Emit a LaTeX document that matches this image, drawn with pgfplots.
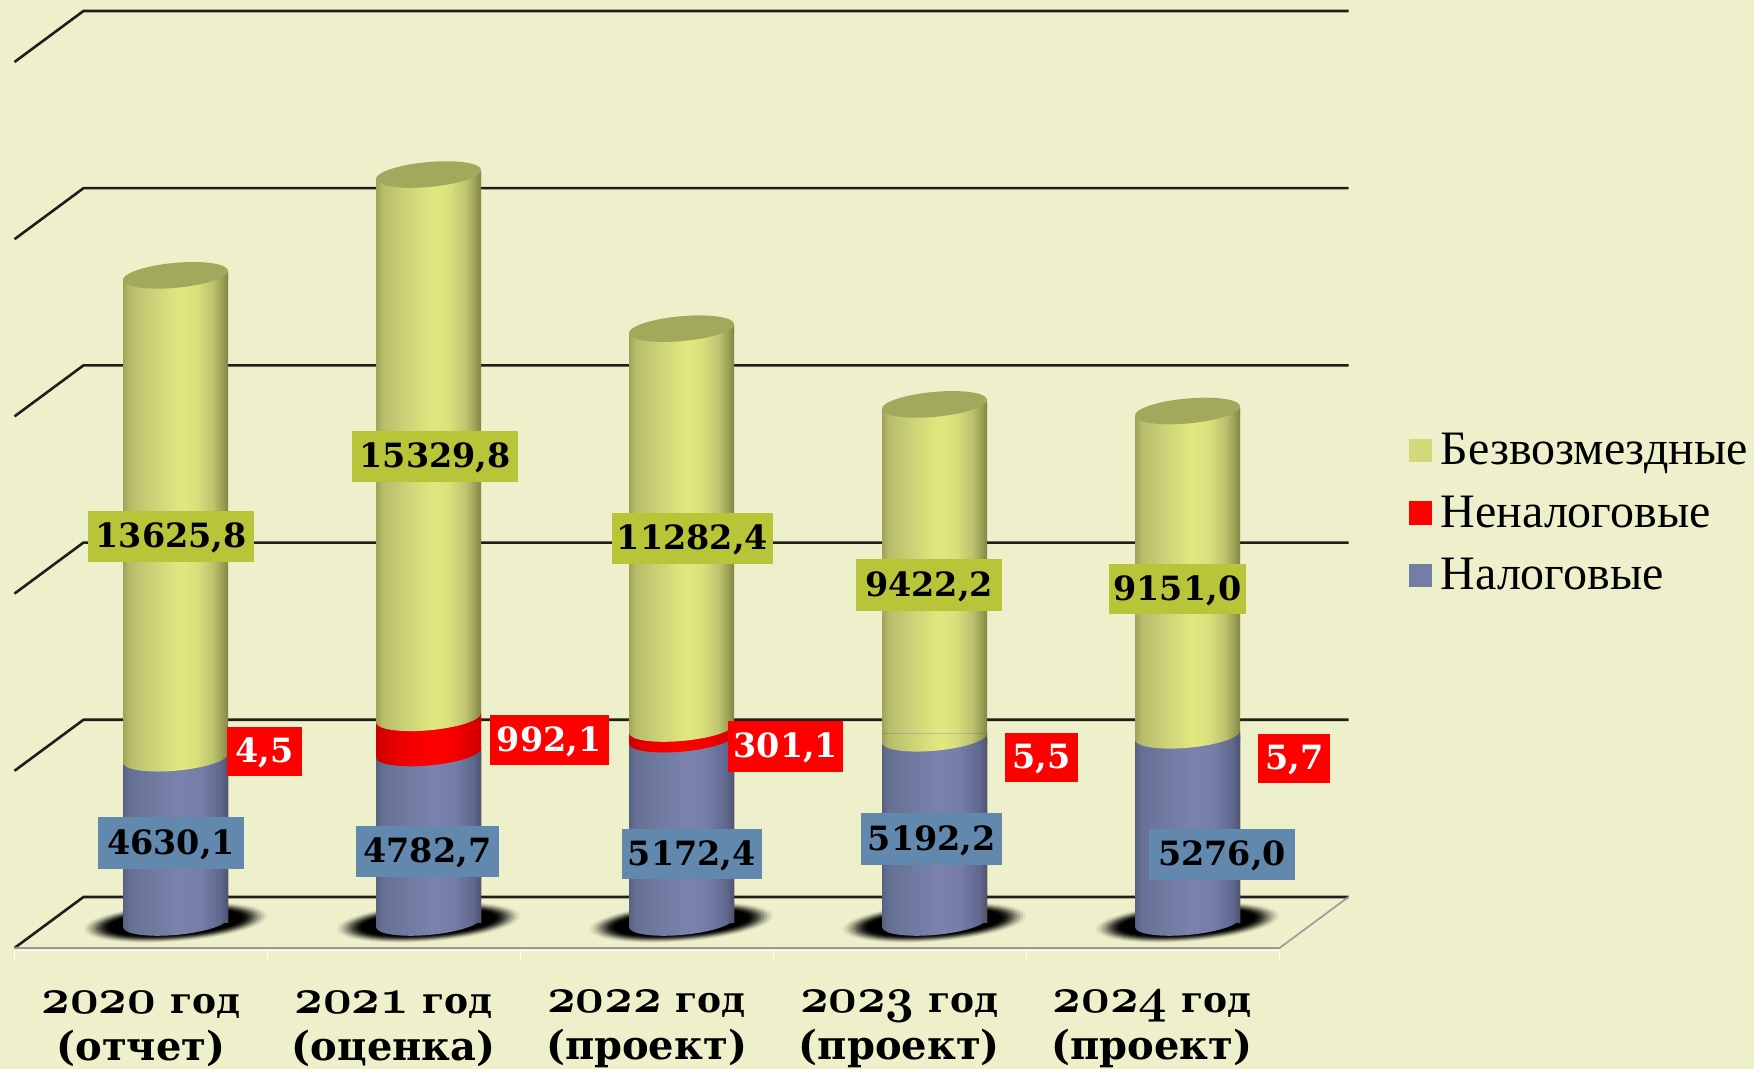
\documentclass[border=0pt]{standalone}
\usepackage{fontspec}
\usepackage{pgfplots}
\usepackage{pgfplotstable}
\pgfplotsset{compat=1.18}
\setmainfont{Liberation Serif}
\newfontfamily\labfont{DejaVu Serif}

\definecolor{bg}{RGB}{238,240,203}
\definecolor{gridc}{RGB}{30,30,26}
\definecolor{boxyellow}{RGB}{185,197,56}
\definecolor{boxblue}{RGB}{98,136,174}
\definecolor{swyellow}{RGB}{211,217,122}
\definecolor{swblue}{RGB}{118,125,165}
\definecolor{capc}{RGB}{162,168,92}

\pgfdeclarehorizontalshading{cylyellow}{100bp}{rgb(0bp)=(0.62,0.64,0.34); rgb(25bp)=(0.62,0.64,0.34);
  rgb(28bp)=(0.72,0.74,0.42); rgb(40bp)=(0.80,0.83,0.47); rgb(52bp)=(0.88,0.91,0.50); rgb(60bp)=(0.85,0.88,0.49);
  rgb(68bp)=(0.74,0.76,0.43); rgb(73bp)=(0.58,0.60,0.31); rgb(75bp)=(0.50,0.52,0.28); rgb(100bp)=(0.50,0.52,0.28)}
\pgfdeclarehorizontalshading{cylred}{100bp}{rgb(0bp)=(0.80,0,0); rgb(25bp)=(0.80,0,0);
  rgb(35bp)=(0.92,0,0); rgb(50bp)=(1,0,0); rgb(62bp)=(0.97,0,0); rgb(75bp)=(0.80,0,0); rgb(100bp)=(0.80,0,0)}
\pgfdeclarehorizontalshading{cylblue}{100bp}{rgb(0bp)=(0.34,0.38,0.50); rgb(25bp)=(0.34,0.38,0.50);
  rgb(28bp)=(0.40,0.44,0.58); rgb(40bp)=(0.44,0.48,0.63); rgb(52bp)=(0.48,0.51,0.68); rgb(62bp)=(0.46,0.49,0.66);
  rgb(71bp)=(0.38,0.41,0.56); rgb(75bp)=(0.30,0.33,0.44); rgb(100bp)=(0.30,0.33,0.44)}

% cylinder pieces as plot marks, 1 image pixel = 0.5pt
\newcommand{\pp}[2]{\pgfqpoint{#1pt}{#2pt}}
\newcommand{\lowerarc}{% left end to right end, front of the tilted ellipse
  \pgfpathmoveto{\pp{-26.25}{-2.25}}
  \pgfpathcurveto{\pp{-26.25}{-5.70}}{\pp{-14.5}{-7.49}}{\pp{0}{-6.25}}
  \pgfpathcurveto{\pp{14.5}{-5.01}}{\pp{26.25}{-1.20}}{\pp{26.25}{2.25}}}
\newcommand{\defseg}[1]{%
  \pgfdeclareplotmark{base#1}{\lowerarc
    \pgfpathlineto{\pp{26.25}{2.5}}\pgfpathlineto{\pp{-26.25}{2.5}}\pgfpathclose
    \pgfshadepath{cyl#1}{0}\pgfusepath{discard}}%
  \pgfdeclareplotmark{top#1}{\pgfpathrectanglecorners{\pp{-26.25}{-2.5}}{\pp{26.25}{2.25}}
    \pgfshadepath{cyl#1}{0}\pgfusepath{discard}}%
}
\defseg{blue}\defseg{red}\defseg{yellow}
\pgfdeclareplotmark{cap}{%
  \pgfsetfillcolor{bg}
  \pgfpathmoveto{\pp{-26.4}{-2.25}}\pgfpathlineto{\pp{-26.4}{0.6}}\pgfpathlineto{\pp{-24.4}{0.6}}\pgfpathclose
  \pgfusepath{fill}
  \lowerarc
  \pgfpathlineto{\pp{26.25}{-2.5}}\pgfpathlineto{\pp{-26.25}{-2.5}}\pgfpathclose
  \pgfshadepath{cylyellow}{0}\pgfusepath{discard}
  \pgfsetfillcolor{capc}
  \lowerarc
  \pgfpathcurveto{\pp{26.25}{5.70}}{\pp{14.5}{7.49}}{\pp{0}{6.25}}
  \pgfpathcurveto{\pp{-14.5}{5.01}}{\pp{-26.25}{1.20}}{\pp{-26.25}{-2.25}}
  \pgfpathclose
  \pgfusepath{fill}}
\newcommand{\shell}[3]{\pgfsetfillcolor{#1}\pgfpathellipse{\pgfpointorigin}{\pgfpointpolar{4.3}{#2pt}}{\pgfpointpolar{94.3}{#3pt}}\pgfusepath{fill}}
\pgfdeclareplotmark{shadow}{%
  \shell{bg!94!black}{46}{9.6}
  \shell{bg!85!black}{44.5}{9.2}
  \shell{bg!72!black}{43}{8.8}
  \shell{bg!58!black}{41.5}{8.4}
  \shell{bg!42!black}{40}{8}
  \shell{bg!28!black}{38.5}{7.6}
  \shell{bg!15!black}{37}{7.2}
  \shell{bg!6!black}{35.5}{6.8}
  \shell{black}{34}{6.4}}

\pgfplotstableread{
x      nal    nen    bez
0.6364 4630.1 4.5    13625.8
1.6364 4782.7 992.1  15329.8
2.6364 5172.4 301.1  11282.4
3.6364 5192.2 5.5    9422.2
4.6364 5276.0 5.7    9151.0
}\budget

% one shaded bar per segment, from the top of the stack downwards: x, top of Налоговые, of Неналоговые, of Безвозмездные
\newcommand{\cyl}[4]{%
  \addplot[forget plot,ybar,bar shift=0pt,bar width=52.5pt,draw=none,shading=cylyellow] coordinates {(#1,#4)};
  \addplot[forget plot,ybar,bar shift=0pt,bar width=52.5pt,draw=none,shading=cylred] coordinates {(#1,#3)};
  \addplot[forget plot,ybar,bar shift=0pt,bar width=52.5pt,draw=none,shading=cylblue] coordinates {(#1,#2)};
}

\newcommand{\lab}[7]{\fill[#5] (#1,#2) rectangle node[text=#6,yshift=-0.8pt,font=\labfont\bfseries\fontsize{16.7}{20}\selectfont,inner sep=0pt] {#7} (#3,#4);}
\newcommand{\old}[1]{{\fontsize{23}{23}\usefont{OML}{cmm}{b}{it}#1}}
\newcommand{\cat}[3]{\node[align=center,font=\labfont\bfseries\fontsize{20}{23.5}\selectfont,inner sep=0pt] at (#1,920) {\old{#2} {\fontsize{18}{23.5}\selectfont год}\\(#3)};}

\pgfplotsset{full/.style={
  at={(0,0)}, anchor=south west,
  scale only axis, width=877pt, height=534.5pt,
  xmin=-0.0573, xmax=6.8755, ymin=-4134, ymax=26030,
  axis lines=none}}

\begin{document}
\begin{tikzpicture}
% back wall, floor and shadows in a first axis, so that the bars lie over them
\begin{axis}[full,axis background/.style={fill=bg}]
\addplot[gridc,line width=1.3pt] coordinates {(0,4280) (0.2727,5720) (5.2727,5720)};
\addplot[gridc,line width=1.3pt] coordinates {(0,9280) (0.2727,10720) (5.2727,10720)};
\addplot[gridc,line width=1.3pt] coordinates {(0,14280) (0.2727,15720) (5.2727,15720)};
\addplot[gridc,line width=1.3pt] coordinates {(0,19280) (0.2727,20720) (5.2727,20720)};
\addplot[gridc,line width=1.3pt] coordinates {(0,24280) (0.2727,25720) (5.2727,25720)};
\addplot[gridc,line width=1.3pt] coordinates {(0,-720) (0.2727,720) (5.2727,720)};
\addplot[gray!80,line width=0.8pt] coordinates {(5.2727,720) (5,-720) (0,-720)};
\addplot[white,line width=0.9pt,unbounded coords=jump] coordinates {
  (0,-790) (5,-790) (nan,nan)
  (0,-790) (0,-1080) (nan,nan) (1,-790) (1,-1080) (nan,nan) (2,-790) (2,-1080) (nan,nan)
  (3,-790) (3,-1080) (nan,nan) (4,-790) (4,-1080) (nan,nan) (5,-790) (5,-1080)};
\addplot[only marks,mark=shadow] table[x=x,y expr=0] {\budget};
\end{axis}
\begin{axis}[full,
  legend style={at={(rel axis cs:0.803,0.595)},anchor=north west,draw=none,fill=none,
    font=\fontsize{24}{26}\selectfont,row sep=14pt,inner sep=0pt,
    nodes={inner sep=0pt,anchor=west}},
  legend cell align=left,
  legend image code/.code={\fill[#1] (0pt,-5.6pt) rectangle (11pt,5.6pt); \path (15.5pt,0pt);},
]
% sides of the cylinders
\cyl{0.6364}{4630.1}{4634.6}{18260.4}
\cyl{1.6364}{4782.7}{5774.8}{21104.6}
\cyl{2.6364}{5172.4}{5473.5}{16755.9}
\cyl{3.6364}{5192.2}{5197.7}{14619.9}
\cyl{4.6364}{5276.0}{5281.7}{14432.7}
% Налоговые
\addplot[forget plot,only marks,mark=baseblue] table[x=x,y expr=0] {\budget};
\addplot[forget plot,only marks,mark=topblue] table[x=x,y=nal] {\budget};
% Неналоговые, the rounded ends only where the band is wide enough to be seen
\addplot[forget plot,only marks,mark=basered,restrict expr to domain={\thisrow{nen}}{10:100000}] table[x=x,y=nal] {\budget};
\addplot[forget plot,only marks,mark=topred,restrict expr to domain={\thisrow{nen}}{10:100000}] table[x=x,y expr=\thisrow{nal}+\thisrow{nen}] {\budget};
% Безвозмездные
\addplot[forget plot,only marks,mark=baseyellow] table[x=x,y expr=\thisrow{nal}+\thisrow{nen}] {\budget};
\addplot[forget plot,only marks,mark=cap] table[x=x,y expr=\thisrow{nal}+\thisrow{nen}+\thisrow{bez}] {\budget};
\addlegendimage{swyellow}\addlegendentry{Безвозмездные}
\addlegendimage{red}\addlegendentry{Неналоговые}
\addlegendimage{swblue}\addlegendentry{Налоговые}
\end{axis}
% labels typed in the coordinates of the 1568 wide view
\begin{scope}[x=0.5593pt,y=-0.5593pt,shift={(0pt,534.5pt)}]
\lab{79}{457}{227}{502}{boxyellow}{black}{13625,8}
\lab{315}{385}{463}{431}{boxyellow}{black}{15329,8}
\lab{547}{459}{691}{504}{boxyellow}{black}{11282,4}
\lab{765}{500}{896}{546}{boxyellow}{black}{9422,2}
\lab{991}{504}{1114}{549}{boxyellow}{black}{9151,0}
\lab{203}{650}{270}{694}{red}{white}{4,5}
\lab{438}{639}{544}{684}{red}{white}{992,1}
\lab{651}{645}{754}{690}{red}{white}{301,1}
\lab{898}{655}{964}{699}{red}{white}{5,5}
\lab{1125}{656}{1189}{700}{red}{white}{5,7}
\lab{88}{730}{218}{777}{boxblue}{black}{4630,1}
\lab{318}{738}{446}{784}{boxblue}{black}{4782,7}
\lab{556}{741}{681}{786}{boxblue}{black}{5172,4}
\lab{770}{727}{896}{773}{boxblue}{black}{5192,2}
\lab{1027}{741}{1158}{787}{boxblue}{black}{5276,0}
\cat{126}{2020}{отчет}
\cat{352}{2021}{оценка}
\cat{578}{2022}{проект}
\cat{804}{2023}{проект}
\cat{1030}{2024}{проект}
\end{scope}
\end{tikzpicture}
\end{document}
